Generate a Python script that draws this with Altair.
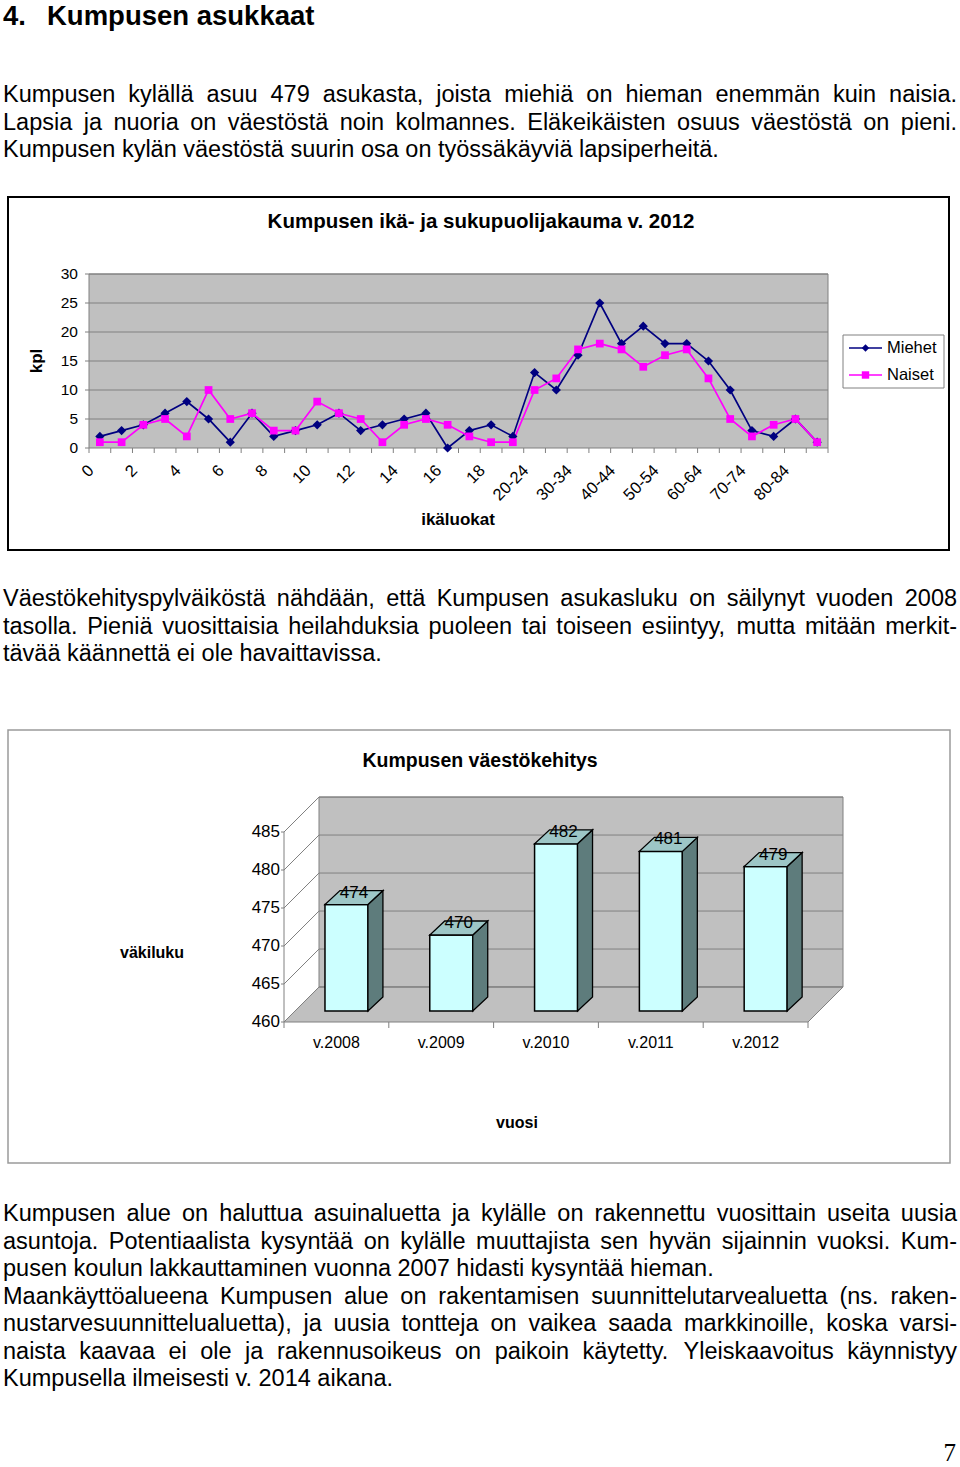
import json
import altair as alt
import pandas as pd

# ---------------- data ----------------
age_classes = ["0", "1", "2", "3", "4", "5", "6", "7", "8", "9", "10", "11", "12", "13", "14",
               "15", "16", "17", "18", "19", "20-24", "25-29", "30-34", "35-39", "40-44",
               "45-49", "50-54", "55-59", "60-64", "65-69", "70-74", "75-79", "80-84", "85-"]
shown_age_labels = ["0", "2", "4", "6", "8", "10", "12", "14", "16", "18",
                    "20-24", "30-34", "40-44", "50-54", "60-64", "70-74", "80-84"]
miehet = [2, 3, 4, 6, 8, 5, 1, 6, 2, 3, 4, 6, 3, 4, 5, 6, 0, 3, 4, 2,
          13, 10, 16, 25, 18, 21, 18, 18, 15, 10, 3, 2, 5, 1]
naiset = [1, 1, 4, 5, 2, 10, 5, 6, 3, 3, 8, 6, 5, 1, 4, 5, 4, 2, 1, 1,
          10, 12, 17, 18, 17, 14, 16, 17, 12, 5, 2, 4, 5, 1]
series_names = ["Miehet", "Naiset"]
line_ticks = [0, 5, 10, 15, 20, 25, 30]

years = ["v.2008", "v.2009", "v.2010", "v.2011", "v.2012"]
population = [474, 470, 482, 481, 479]
bar_ticks = [460, 465, 470, 475, 480, 485]

heading_number = "4."
heading_text = "Kumpusen asukkaat"
line_title = "Kumpusen ikä- ja sukupuolijakauma v. 2012"
line_y_title = "kpl"
line_x_title = "ikäluokat"
bar_title = "Kumpusen väestökehitys"
bar_y_title = "väkiluku"
bar_x_title = "vuosi"
page_number = "7"

paragraph_1 = [
    "Kumpusen kylällä asuu 479 asukasta, joista miehiä on hieman enemmän kuin naisia.",
    "Lapsia ja nuoria on väestöstä noin kolmannes. Eläkeikäisten osuus väestöstä on pieni.",
    "Kumpusen kylän väestöstä suurin osa on työssäkäyviä lapsiperheitä.",
]
paragraph_2 = [
    "Väestökehityspylväiköstä nähdään, että Kumpusen asukasluku on säilynyt vuoden 2008",
    "tasolla. Pieniä vuosittaisia heilahduksia puoleen tai toiseen esiintyy, mutta mitään merkit-",
    "tävää käännettä ei ole havaittavissa.",
]
paragraph_3 = [
    "Kumpusen alue on haluttua asuinaluetta ja kylälle on rakennettu vuosittain useita uusia",
    "asuntoja. Potentiaalista kysyntää on kylälle muuttajista sen hyvän sijainnin vuoksi. Kum-",
    "pusen koulun lakkauttaminen vuonna 2007 hidasti kysyntää hieman.",
]
paragraph_4 = [
    "Maankäyttöalueena Kumpusen alue on rakentamisen suunnittelutarvealuetta (ns. raken-",
    "nustarvesuunnittelualuetta), ja uusia tontteja on vaikea saada markkinoille, koska varsi-",
    "naista kaavaa ei ole ja rakennusoikeus on paikoin käytetty. Yleiskaavoitus käynnistyy",
    "Kumpusella ilmeisesti v. 2014 aikana.",
]

# ---------------- styles / layout ----------------
W, H = 960, 1467
SANS = "Liberation Sans, Arial, sans-serif"
CF = "Liberation Sans, Arial, sans-serif"   # chart font
SERIF = "Liberation Serif, Times New Roman, serif"
GRID = "#808080"
PLOT_BG = "#C0C0C0"
SERIES_COLORS = ["#000080", "#FF00FF"]

BODY_SIZE = 23.5
LINE_H = 27.5
LEFT, RIGHT = 3, 957

# line chart plot area (px)
LC_X0, LC_X1, LC_YT, LC_YB = 89, 828, 274, 448
# bar chart front plane (px)
BC_X0, BC_X1, BC_YT, BC_YB = 284, 808, 832, 1022
# 3D depth (data units)
DX, DY = 0.334, 4.6
OX, OY = 0.096, 1.45
HW = 0.205
BDX, BDY = 0.143, 1.84

# Arial / Liberation Sans advance widths (per 1000 em)
ARIAL = {' ': 278, ',': 278, '.': 278, '-': 333, '(': 333, ')': 333,
         'a': 556, 'b': 556, 'c': 500, 'd': 556, 'e': 556, 'f': 278, 'g': 556, 'h': 556,
         'i': 222, 'j': 222, 'k': 500, 'l': 222, 'm': 833, 'n': 556, 'o': 556, 'p': 556,
         'q': 556, 'r': 333, 's': 500, 't': 278, 'u': 556, 'v': 500, 'w': 722, 'x': 500,
         'y': 500, 'z': 500, 'ä': 556, 'ö': 556,
         'E': 667, 'K': 667, 'L': 556, 'M': 833, 'P': 667, 'V': 667, 'Y': 667}


def text_width(s, size):
    return sum(ARIAL.get(c, 556) for c in s) / 1000.0 * size


def layout_paragraph(lines, first_baseline):
    rows = []
    for li, line in enumerate(lines):
        y = first_baseline + li * LINE_H
        if li == len(lines) - 1:
            rows.append({"text": line, "x": LEFT, "y": y})
            continue
        words = line.split(" ")
        widths = [text_width(w, BODY_SIZE) for w in words]
        gap = (RIGHT - LEFT - sum(widths)) / (len(words) - 1)
        x = LEFT
        for w, wd in zip(words, widths):
            rows.append({"text": w, "x": x, "y": y})
            x += wd + gap
    return rows


body_rows = (layout_paragraph(paragraph_1, 102) + layout_paragraph(paragraph_2, 606)
             + layout_paragraph(paragraph_3, 1221)
             + layout_paragraph(paragraph_4, 1221 + 3 * LINE_H))
body_df = pd.DataFrame(body_rows)


def px_text(df, **mark):
    return alt.Chart(df).mark_text(**mark).encode(
        x=alt.X("x:Q", scale=None, axis=None),
        y=alt.Y("y:Q", scale=None, axis=None),
        text="text:N",
    )


one = pd.DataFrame({"a": [0]})

# ---------------- page text ----------------
body = px_text(body_df, font=SANS, fontSize=BODY_SIZE, align="left", baseline="alphabetic", color="black")
heading = px_text(pd.DataFrame({"text": [heading_number, heading_text], "x": [3, 47], "y": [25, 25]}),
                  font=SANS, fontSize=27.5, fontWeight="bold", align="left", baseline="alphabetic", color="black")
pageno = px_text(pd.DataFrame({"text": [page_number], "x": [956], "y": [1461]}),
                 font=SERIF, fontSize=25, align="right", baseline="alphabetic", color="black")

titles_df = pd.DataFrame({
    "text": [line_title, bar_title, line_y_title, line_x_title, bar_y_title, bar_x_title],
    "x": [481, 480, 37, 458, 152, 517],
    "y": [222, 761, 361, 520, 953, 1123],
    "size": [20.5, 19.5, 17, 17, 16, 16],
    "angle": [0, 0, 270, 0, 0, 0],
})
chart_titles = alt.Chart(titles_df).mark_text(font=CF, fontWeight="bold", align="center",
                                              baseline="middle", color="black").encode(
    x=alt.X("x:Q", scale=None, axis=None), y=alt.Y("y:Q", scale=None, axis=None),
    size=alt.Size("size:Q", scale=None, legend=None), angle=alt.Angle("angle:Q", scale=None, legend=None),
    text="text:N")

frame1 = alt.Chart(one).mark_rect(fillOpacity=0, stroke="black", strokeWidth=2).encode(
    x=alt.value(8), x2=alt.value(949), y=alt.value(197), y2=alt.value(550))
frame2 = alt.Chart(one).mark_rect(fillOpacity=0, stroke="#9a9a9a", strokeWidth=1.5).encode(
    x=alt.value(8), x2=alt.value(950), y=alt.value(730), y2=alt.value(1163))

# ---------------- line chart ----------------
lc_df = pd.DataFrame({
    "cat": age_classes * 2,
    "series": [series_names[0]] * len(age_classes) + [series_names[1]] * len(age_classes),
    "val": miehet + naiset,
})
x_scale_lc = alt.Scale(type="band", domain=age_classes, range=[LC_X0, LC_X1], paddingInner=0, paddingOuter=0)
y_scale_lc = alt.Scale(domain=[line_ticks[0], line_ticks[-1]], range=[LC_YB, LC_YT], nice=False, zero=False)
color_lc = alt.Color("series:N", scale=alt.Scale(domain=series_names, range=SERIES_COLORS), legend=None)


def lx(field="cat:N", band=None):
    if band is None:
        return alt.X(field, scale=x_scale_lc, axis=None)
    return alt.X(field, scale=x_scale_lc, axis=None, bandPosition=band)


def ly(field):
    return alt.Y(field, scale=y_scale_lc, axis=None)


lc_bg = alt.Chart(one).mark_rect(fill=PLOT_BG, stroke=GRID, strokeWidth=1).encode(
    x=alt.value(LC_X0), x2=alt.value(LC_X1), y=alt.value(LC_YT), y2=alt.value(LC_YB))
ticks_lc_df = pd.DataFrame({"g": line_ticks})
lc_grid = alt.Chart(pd.DataFrame({"g": line_ticks[1:]})).mark_rule(color=GRID, strokeWidth=1.2).encode(
    y=ly("g:Q"), x=alt.value(LC_X0), x2=alt.value(LC_X1))
lc_ytick = alt.Chart(ticks_lc_df).mark_rule(color=GRID, strokeWidth=1).encode(
    y=ly("g:Q"), x=alt.value(LC_X0 - 4), x2=alt.value(LC_X0))
lc_ylab = alt.Chart(ticks_lc_df).mark_text(font=CF, fontSize=15.5, align="right", baseline="middle",
                                           color="black").encode(
    y=ly("g:Q"), x=alt.value(LC_X0 - 11), text="g:Q")
lc_xtick = alt.Chart(pd.DataFrame({"cat": age_classes})).mark_rule(color=GRID, strokeWidth=1).encode(
    x=lx(band=0), y=alt.value(LC_YB), y2=alt.value(LC_YB + 5))
lc_xtick_end = alt.Chart(pd.DataFrame({"cat": age_classes[-1:]})).mark_rule(color=GRID, strokeWidth=1).encode(
    x=lx(band=1), y=alt.value(LC_YB), y2=alt.value(LC_YB + 5))
lc_xlab = alt.Chart(pd.DataFrame({"cat": shown_age_labels})).mark_text(
    font=CF, fontSize=16.5, align="right", baseline="middle", angle=315, color="black").encode(
    x=lx(band=0.1), y=alt.value(LC_YB + 20), text="cat:N")
lc_lines = alt.Chart(lc_df).mark_line(strokeWidth=1.7).encode(
    x=lx(), y=ly("val:Q"), color=color_lc)
lc_points = alt.Chart(lc_df).mark_point(filled=True, opacity=1).encode(
    x=lx(), y=ly("val:Q"),
    color=color_lc,
    shape=alt.Shape("series:N", scale=alt.Scale(domain=series_names, range=["diamond", "square"]), legend=None),
    size=alt.Size("series:N", scale=alt.Scale(domain=series_names, range=[85, 60]), legend=None),
)
line_chart = alt.layer(lc_bg, lc_grid, lc_ytick, lc_ylab, lc_xtick, lc_xtick_end, lc_xlab, lc_lines, lc_points)

# legend (drawn)
leg_df = pd.DataFrame({"text": series_names, "col": SERIES_COLORS, "shape": ["diamond", "square"],
                       "y": [348 + i * 27 for i in range(len(series_names))]})
leg_box = alt.Chart(one).mark_rect(fill="white", stroke=GRID, strokeWidth=1).encode(
    x=alt.value(843), x2=alt.value(944), y=alt.value(335), y2=alt.value(388))
leg_rule = alt.Chart(leg_df).mark_rule(strokeWidth=1.7).encode(
    x=alt.value(849), x2=alt.value(882), y=alt.Y("y:Q", scale=None, axis=None),
    color=alt.Color("col:N", scale=None))
leg_pt = alt.Chart(leg_df).mark_point(filled=True, opacity=1, size=55).encode(
    x=alt.value(865.5), y=alt.Y("y:Q", scale=None, axis=None),
    color=alt.Color("col:N", scale=None), shape=alt.Shape("shape:N", scale=None))
leg_txt = alt.Chart(leg_df).mark_text(font=CF, fontSize=16.5, align="left", baseline="middle",
                                      color="black").encode(
    x=alt.value(887), y=alt.Y("y:Q", scale=None, axis=None), text="text:N")

# ---------------- bar chart (3D look) ----------------
n = len(years)
XL, XR = -0.5, n - 0.5
YB, YT = bar_ticks[0], bar_ticks[-1]
x_scale_bc = alt.Scale(domain=[XL, XR], range=[BC_X0, BC_X1], nice=False, zero=False)
y_scale_bc = alt.Scale(domain=[YB, YT], range=[BC_YB, BC_YT], nice=False, zero=False)


def bx(field):
    return alt.X(field, scale=x_scale_bc, axis=None)


def by(field):
    return alt.Y(field, scale=y_scale_bc, axis=None, stack=None)


left_wall = pd.DataFrame({"x": [XL, XL + DX], "lo": [YB, YB + DY], "hi": [YT, YT + DY]})
floor = pd.DataFrame({"x": [XL, XL + DX, XR, XR + DX], "lo": [YB, YB, YB, YB + DY],
                      "hi": [YB, YB + DY, YB + DY, YB + DY]})
back_wall = pd.DataFrame({"x": [XL + DX], "x2": [XR + DX], "lo": [YB + DY], "hi": [YT + DY]})
grid_rows = []
for t in bar_ticks:
    for k, (gx, gy) in enumerate([(XL, t), (XL + DX, t + DY), (XR + DX, t + DY)]):
        grid_rows.append({"g": t, "k": k, "x": gx, "y": gy})
grid_df = pd.DataFrame(grid_rows)

front_rows, side_rows, top_rows, lab_rows = [], [], [], []
for i, (yr, v) in enumerate(zip(years, population)):
    x0, x1 = i + OX - HW, i + OX + HW
    b, t = YB + OY, v + OY
    front_rows.append({"year": yr, "x0": x0, "x1": x1, "b": b, "t": t})
    side_rows += [{"year": yr, "x": x1, "lo": b, "hi": t},
                  {"year": yr, "x": x1 + BDX, "lo": b + BDY, "hi": t + BDY}]
    top_rows += [{"year": yr, "x": x0, "lo": t, "hi": t},
                 {"year": yr, "x": x0 + BDX, "lo": t, "hi": t + BDY},
                 {"year": yr, "x": x1, "lo": t, "hi": t + BDY},
                 {"year": yr, "x": x1 + BDX, "lo": t + BDY, "hi": t + BDY}]
    lab_rows.append({"text": str(v), "x": i + OX + BDX / 2, "y": t + BDY / 2})
boundaries = pd.DataFrame({"b": [XL + k for k in range(n + 1)]})
year_df = pd.DataFrame({"i": list(range(n)), "year": years})
bticks_df = pd.DataFrame({"g": bar_ticks})

bc_left = alt.Chart(left_wall).mark_area(fill="white").encode(x=bx("x:Q"), y=by("lo:Q"), y2="hi:Q")
bc_back = alt.Chart(back_wall).mark_rect(fill=PLOT_BG, stroke=GRID, strokeWidth=1).encode(
    x=bx("x:Q"), x2="x2:Q", y=by("lo:Q"), y2="hi:Q")
bc_floor = alt.Chart(floor).mark_area(fill=PLOT_BG, stroke=GRID, strokeWidth=1).encode(
    x=bx("x:Q"), y=by("lo:Q"), y2="hi:Q")
bc_grid = alt.Chart(grid_df).mark_line(color=GRID, strokeWidth=1).encode(
    x=bx("x:Q"), y=by("y:Q"), detail="g:N", order="k:Q")
bc_ydomain = alt.Chart(pd.DataFrame({"lo": [YB], "hi": [YT]})).mark_rule(color=GRID, strokeWidth=1).encode(
    x=alt.value(BC_X0), y=by("lo:Q"), y2="hi:Q")
bc_ytick = alt.Chart(bticks_df).mark_rule(color=GRID, strokeWidth=1).encode(
    y=by("g:Q"), x=alt.value(BC_X0 - 3), x2=alt.value(BC_X0))
bc_ylab = alt.Chart(bticks_df).mark_text(font=CF, fontSize=17, align="right", baseline="middle",
                                         color="black").encode(
    y=by("g:Q"), x=alt.value(BC_X0 - 4), text="g:Q")
bc_xlab = alt.Chart(year_df).mark_text(font=CF, fontSize=16, align="center", baseline="middle",
                                       color="black").encode(
    x=bx("i:Q"), y=alt.value(BC_YB + 21), text="year:N")
bc_front = alt.Chart(pd.DataFrame(front_rows)).mark_rect(fill="#CCFFFF", stroke="black", strokeWidth=1.5).encode(
    x=bx("x0:Q"), x2="x1:Q", y=by("b:Q"), y2="t:Q")
bc_side = alt.Chart(pd.DataFrame(side_rows)).mark_area(fill="#5E7C7C", stroke="black", strokeWidth=1.3).encode(
    x=bx("x:Q"), y=by("lo:Q"), y2="hi:Q", detail="year:N")
bc_top = alt.Chart(pd.DataFrame(top_rows)).mark_area(fill="#9DC6C6", stroke="black", strokeWidth=1.3).encode(
    x=bx("x:Q"), y=by("lo:Q"), y2="hi:Q", detail="year:N")
bc_labels = alt.Chart(pd.DataFrame(lab_rows)).mark_text(font=CF, fontSize=17, align="center",
                                                        baseline="alphabetic", color="black").encode(
    x=bx("x:Q"), y=by("y:Q"), text="text:N")
bc_ticks = alt.Chart(boundaries).mark_rule(color=GRID, strokeWidth=1).encode(
    x=bx("b:Q"), y=alt.value(BC_YB), y2=alt.value(BC_YB + 6))
bar_chart = alt.layer(bc_left, bc_back, bc_floor, bc_grid, bc_ydomain, bc_ytick, bc_ylab, bc_xlab,
                      bc_front, bc_side, bc_top, bc_labels, bc_ticks)

# ---------------- page ----------------
chart = alt.layer(
    frame1, frame2, heading, body, pageno, chart_titles,
    line_chart, leg_box, leg_rule, leg_pt, leg_txt,
    bar_chart,
).resolve_scale(
    x="independent", y="independent", color="independent", shape="independent", size="independent"
).properties(
    width=W, height=H, padding=0, autosize=alt.AutoSizeParams(type="none"), background="white"
).configure_view(strokeOpacity=0)

chart.save("out.html", embed_options={"renderer": "svg", "actions": False})
